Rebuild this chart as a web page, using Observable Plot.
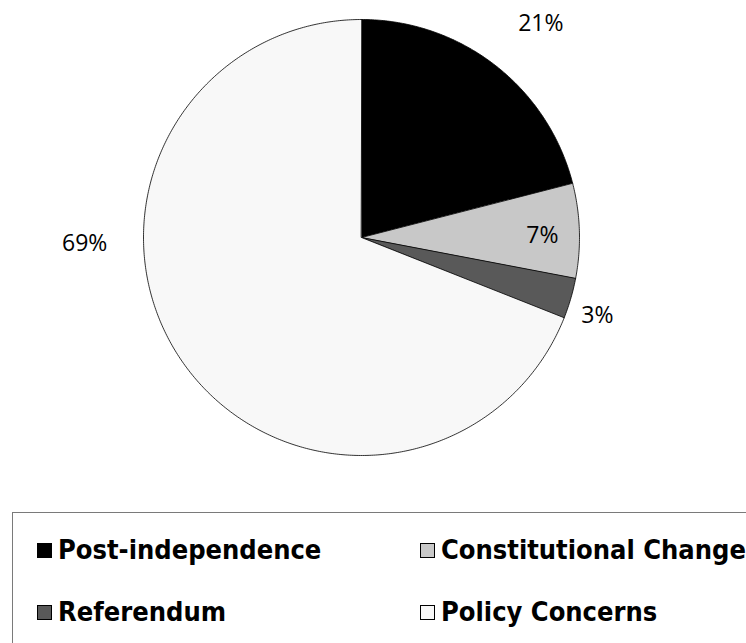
<!DOCTYPE html>
<html>
<head>
<meta charset="utf-8">
<script src="https://cdn.jsdelivr.net/npm/d3@7"></script>
<script src="https://cdn.jsdelivr.net/npm/@observablehq/plot@0.6"></script>
<style>
  html, body { margin: 0; padding: 0; background: #fff; overflow: hidden; }
  #wrap { position: relative; width: 746px; height: 643px; }
  #legend { position: absolute; left: 12px; top: 512px; width: 760px; height: 160px;
            border-left: 1.5px solid #7a7a7a; border-top: 1.5px solid #7a7a7a; box-sizing: border-box; }
  .item { position: absolute; display: flex; align-items: center;
          font-family: "DejaVu Sans Condensed", "DejaVu Sans", sans-serif; font-stretch: condensed;
          font-weight: bold; font-size: 27px; color: #000; white-space: nowrap; line-height: 32px; }
  .sw { width: 15px; height: 15px; border: 1px solid #000; margin-right: 6px; box-sizing: border-box; }
</style>
</head>
<body>
<div id="wrap"><div id="chart"></div><div id="legend"></div></div>
<script>
const categories = ["Post-independence", "Constitutional Change", "Referendum", "Policy Concerns"];
const values = [21, 7, 3, 69];
const labels = ["21%", "7%", "3%", "69%"];
const colors = ["#000000", "#c8c8c8", "#595959", "#f8f8f8"];

// label placement (radius as fraction of pie radius, angle in degrees clockwise from top)
const labelPlacement = [
  {r: 1.28, a: 40}, {r: 0.83, a: 89.5}, {r: 1.14, a: 108.4}, {r: 1.27, a: 268.8}
];

const total = d3.sum(values);
const slices = [];
let acc = 0;
values.forEach((v, i) => {
  const a0 = acc / total * 2 * Math.PI;
  acc += v;
  const a1 = acc / total * 2 * Math.PI;
  const pts = [{x: 0, y: 0}];
  const n = Math.max(4, Math.ceil((a1 - a0) / 0.01));
  for (let k = 0; k <= n; k++) {
    const t = a0 + (a1 - a0) * k / n;
    pts.push({x: Math.sin(t), y: Math.cos(t)});
  }
  slices.push({name: categories[i], color: colors[i], pts});
});

const labelData = labels.map((t, i) => {
  const p = labelPlacement[i];
  const a = p.a * Math.PI / 180;
  return {text: t, x: p.r * Math.sin(a), y: p.r * Math.cos(a)};
});

const W = 746, H = 500, cx = 361, cy = 237, R = 218;
const chart = Plot.plot({
  width: W, height: H,
  margin: 0,
  x: {domain: [-cx / R, (W - cx) / R], axis: null},
  y: {domain: [-(H - cy) / R, cy / R], axis: null},
  marks: [
    ...slices.map(s => Plot.line(s.pts, {x: "x", y: "y", fill: s.color, stroke: "#000", strokeWidth: 0.8, curve: "linear-closed"})),
    Plot.text(labelData, {x: "x", y: "y", text: "text", fontSize: 23,
      fontFamily: "'Open Sans', 'Noto Sans', sans-serif", fill: "#000"})
  ]
});
document.getElementById("chart").appendChild(chart);

const legendPos = [
  {left: 24, top: 21}, {left: 407, top: 21}, {left: 24, top: 83}, {left: 407, top: 83}
];
const legend = document.getElementById("legend");
categories.forEach((c, i) => {
  const it = document.createElement("div");
  it.className = "item";
  it.style.left = legendPos[i].left + "px";
  it.style.top = legendPos[i].top + "px";
  it.innerHTML = `<span class="sw" style="background:${colors[i]}"></span><span>${c}</span>`;
  legend.appendChild(it);
});
</script>
</body>
</html>
